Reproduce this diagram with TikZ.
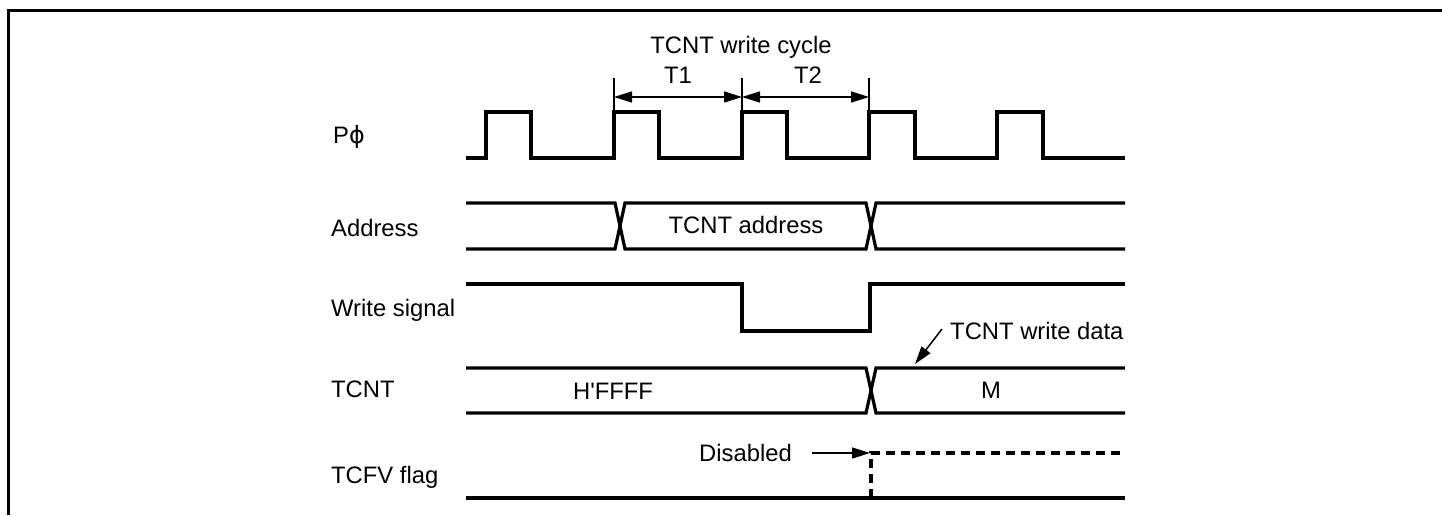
\documentclass[tikz,border=0pt]{standalone}
\usepackage{fontspec}
\setmainfont{Liberation Sans}[Ligatures=TeXOff]
\newfontfamily\dejavu{DejaVu Sans}
\usetikzlibrary{arrows.meta}
\begin{document}
\begin{tikzpicture}[x=1pt,y=-1pt,
  sig/.style={line width=3.2pt, line join=miter},
  dsig/.style={line width=3.2pt, dash pattern=on 9pt off 6pt},
  frame/.style={line width=3.5pt},
  tick/.style={line width=1.5pt},
  dimarrow/.style={line width=1.5pt, {Triangle[length=18pt,width=11pt]}-{Triangle[length=18pt,width=11pt]}},
  ptr/.style={line width=1.5pt, -{Triangle[length=18pt,width=11pt]}},
  lbl/.style={anchor=base west, inner sep=0pt, font=\fontsize{23.8}{28}\selectfont},
  ctr/.style={anchor=base, inner sep=0pt, font=\fontsize{23.8}{28}\selectfont},
  rgt/.style={anchor=base east, inner sep=0pt, font=\fontsize{23.8}{28}\selectfont}
]
\useasboundingbox (0,0) rectangle (1442,515);
% frame
\draw[frame] (1442,10.5) -- (8.5,10.5) -- (8.5,515);

% labels
\node[lbl] (lphi) at (333,143) {P{\dejavu ϕ}};
\node[lbl] (laddr) at (331,236) {Address};
\node[lbl] (lwr) at (331,316) {Write signal};
\node[lbl] (ltcnt) at (331,397) {TCNT};
\node[lbl] (ltcfv) at (331,483) {TCFV flag};

% clock
\draw[sig] (466,158) -- (486,158) -- (486,112) -- (531,112) -- (531,158)
  -- (614,158) -- (614,112) -- (659,112) -- (659,158)
  -- (742,158) -- (742,112) -- (787,112) -- (787,158)
  -- (869,158) -- (869,112) -- (915,112) -- (915,158)
  -- (997,158) -- (997,112) -- (1043,112) -- (1043,158) -- (1125,158);

% write cycle dimension
\draw[tick] (614,78) -- (614,112);
\draw[tick] (742,78) -- (742,112);
\draw[tick] (869,78) -- (869,112);
\coordinate (c0) at (614,97);
\coordinate (c1) at (742,97);
\coordinate (c2) at (869,97);
\draw[dimarrow] (c0) -- (c1);
\draw[dimarrow] (c1) -- (c2);
\node[ctr] (wcyc) at (741,53) {TCNT write cycle};
\node[ctr] (t1) at (678,83) {T1};
\node[ctr] (t2) at (808,83) {T2};

% address
\draw[sig] (466,203) -- (615,203) -- (625,249) -- (866,249) -- (876,203) -- (1125,203);
\draw[sig] (466,249) -- (615,249) -- (625,203) -- (866,203) -- (876,249) -- (1125,249);
\node[ctr] (taddr) at (746,233) {TCNT address};

% write signal
\draw[sig] (466,284) -- (742,284) -- (742,331) -- (870,331) -- (870,284) -- (1125,284);

% TCNT
\draw[sig] (466,368) -- (866,368) -- (876,413) -- (1125,413);
\draw[sig] (466,413) -- (866,413) -- (876,368) -- (1125,368);
\node[ctr] (hffff) at (613,399) {H'FFFF};
\node[ctr] (mval) at (991,398) {M};
\node[lbl] (wdata) at (950,339) {TCNT write data};
\coordinate (wd0) at (942,329);
\coordinate (wd1) at (915,364);
\draw[ptr] (wd0) -- (wd1);

% TCFV flag
\draw[sig] (466,498) -- (1125,498);
\draw[dsig] (871,498) -- (871,453) -- (1125,453);
\node[rgt] (dis) at (792,461) {Disabled};
\coordinate (ds0) at (812,453);
\coordinate (ds1) at (870,453);
\draw[ptr] (ds0) -- (ds1);
\end{tikzpicture}
\end{document}
